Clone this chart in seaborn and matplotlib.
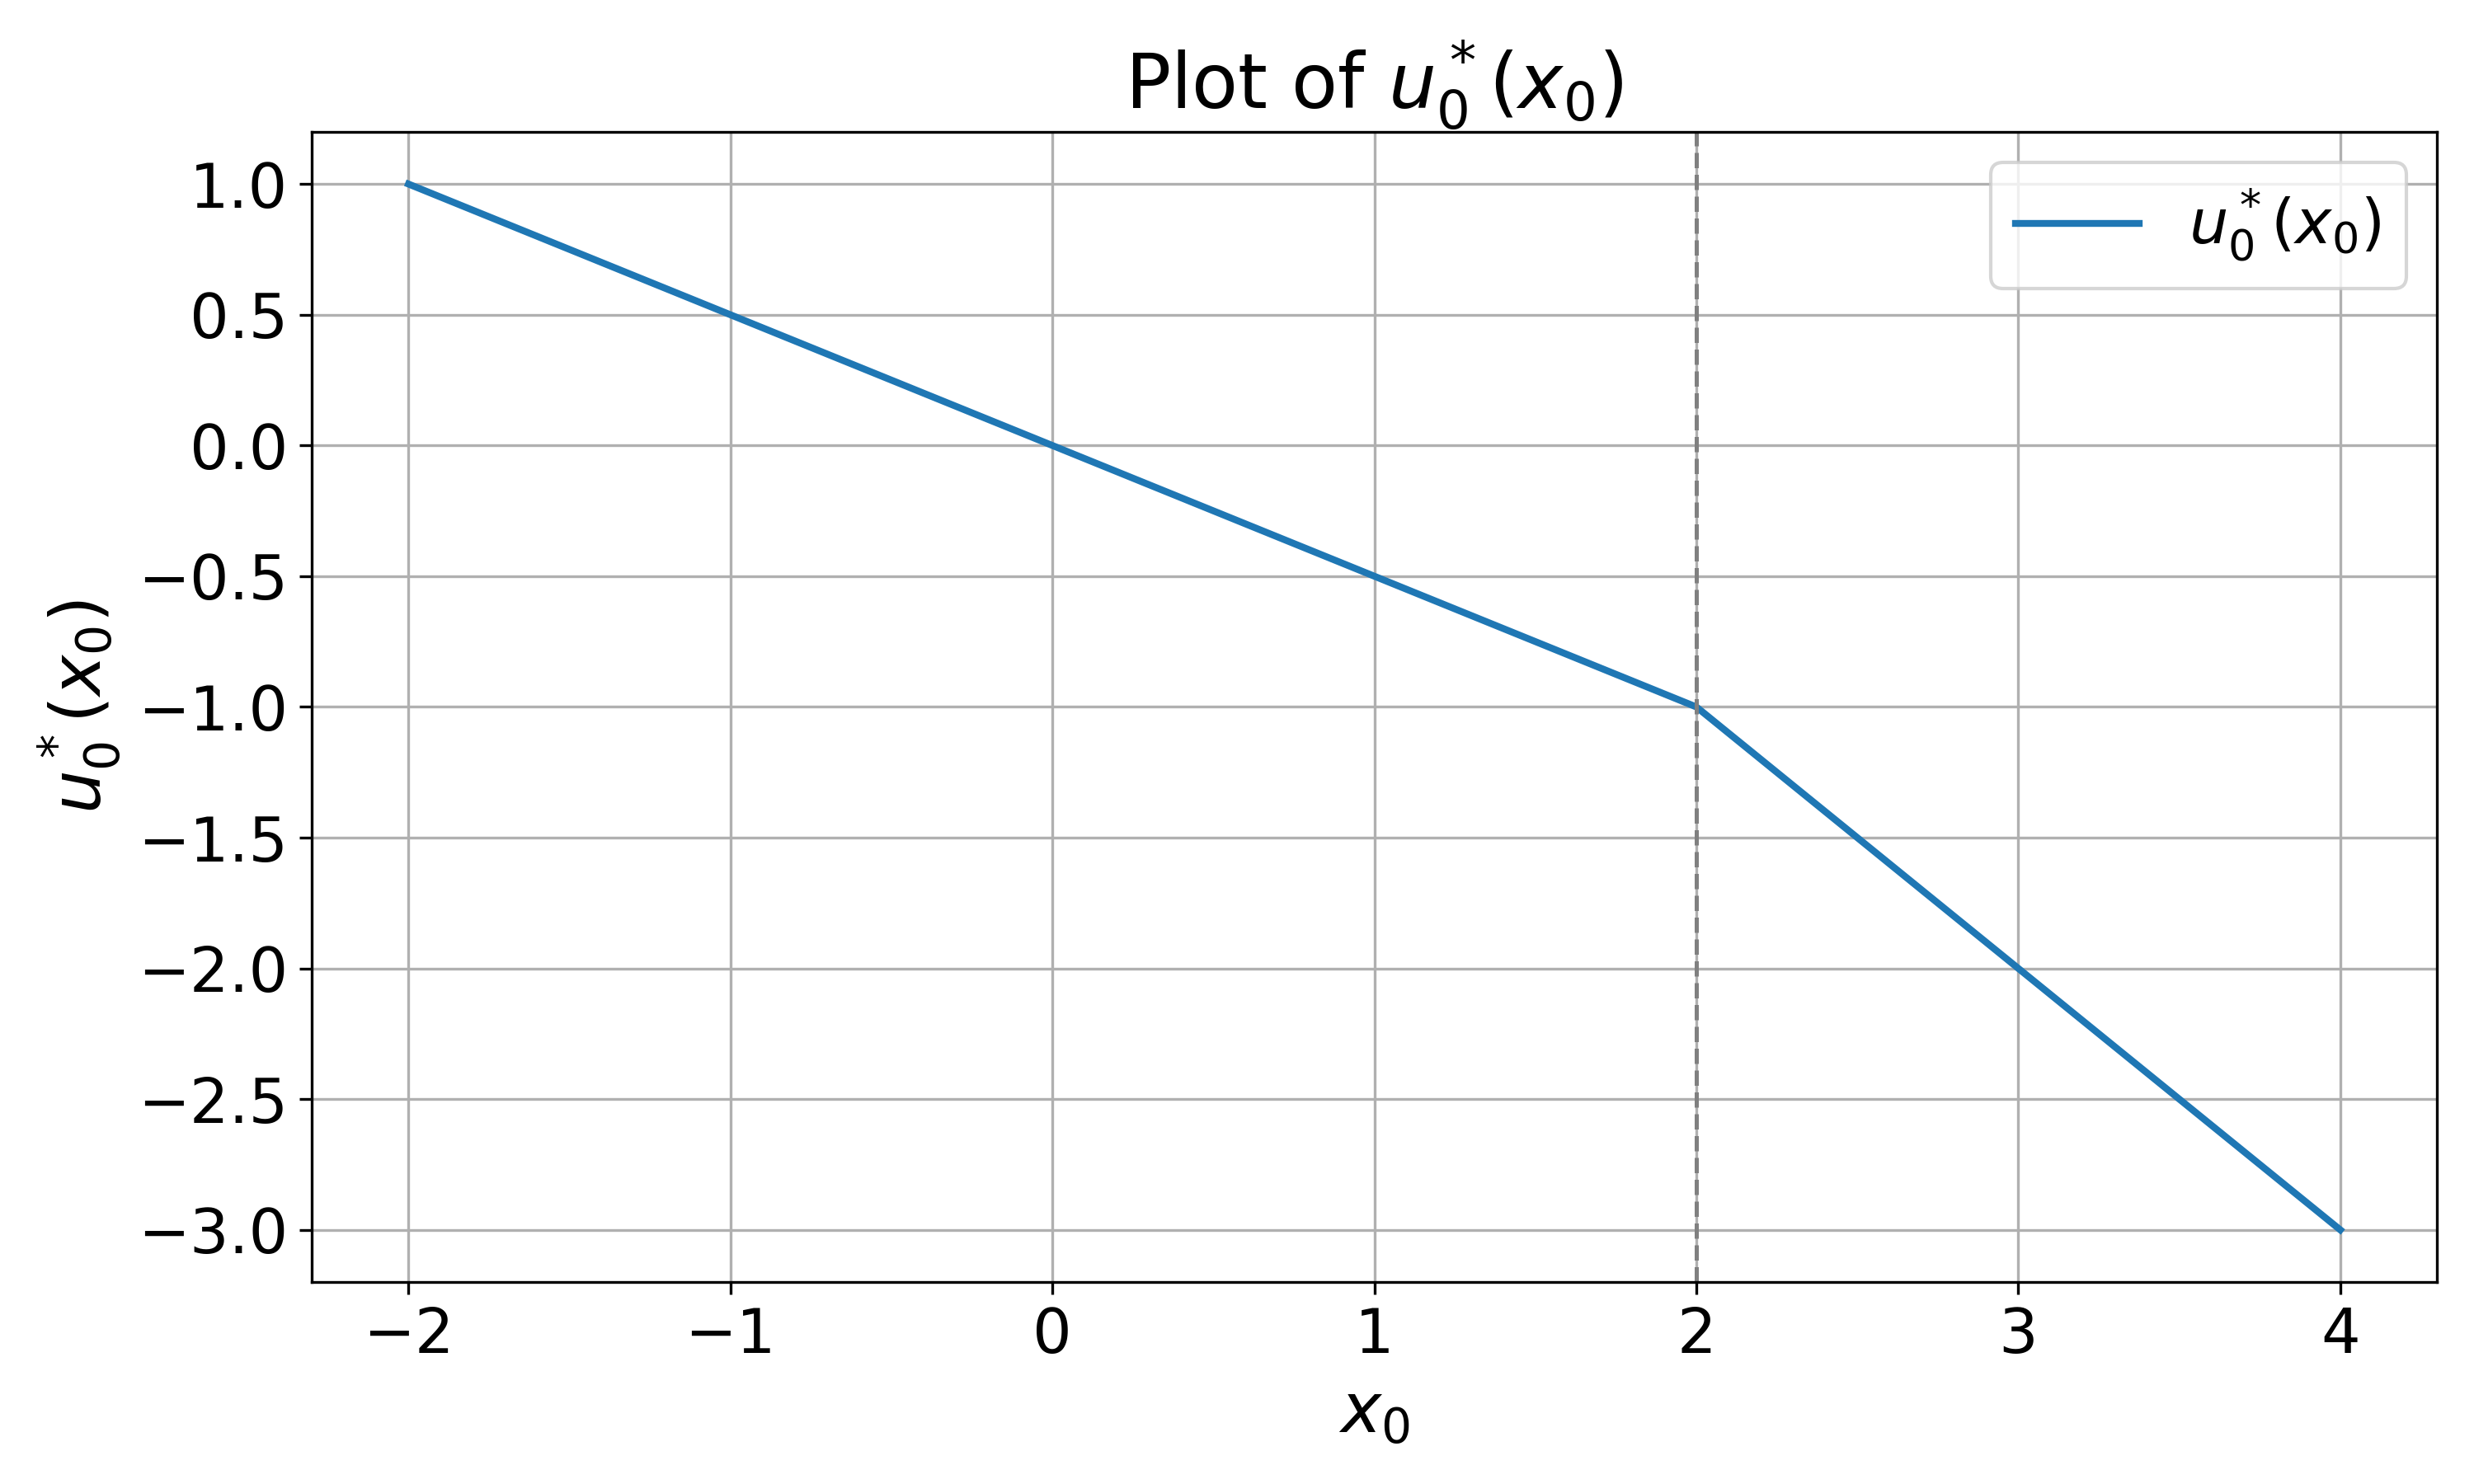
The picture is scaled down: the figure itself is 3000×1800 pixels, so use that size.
import matplotlib
matplotlib.use("Agg")
import matplotlib.pyplot as plt
import pandas as pd
import seaborn as sns

# values
x0_values = [-2, -1, 0, 1, 2, 3, 4]
u0_values = [1.0, 0.5, 0.0, -0.5, -1.0, -2.0, -3.0]
breakpoint_x = 2

df = pd.DataFrame({"x0": x0_values, "u0": u0_values})

fig, ax = plt.subplots(figsize=(10, 6), dpi=300)
sns.lineplot(data=df, x="x0", y="u0", ax=ax, color="#1f77b4", linewidth=2,
             label=r"$u_0^*(x_0)$")
ax.axvline(breakpoint_x, color="gray", linestyle="--", linewidth=1.2)

ax.set_title(r"Plot of $u_0^*(x_0)$", fontsize=22)
ax.set_xlabel(r"$x_0$", fontsize=20)
ax.set_ylabel(r"$u_0^*(x_0)$", fontsize=20)
ax.tick_params(labelsize=18)
ax.set_ylim(-3.2, 1.2)
ax.grid(True)
ax.legend(fontsize=18, loc="upper right")

plt.tight_layout()
plt.savefig("out.png")
plt.close()
